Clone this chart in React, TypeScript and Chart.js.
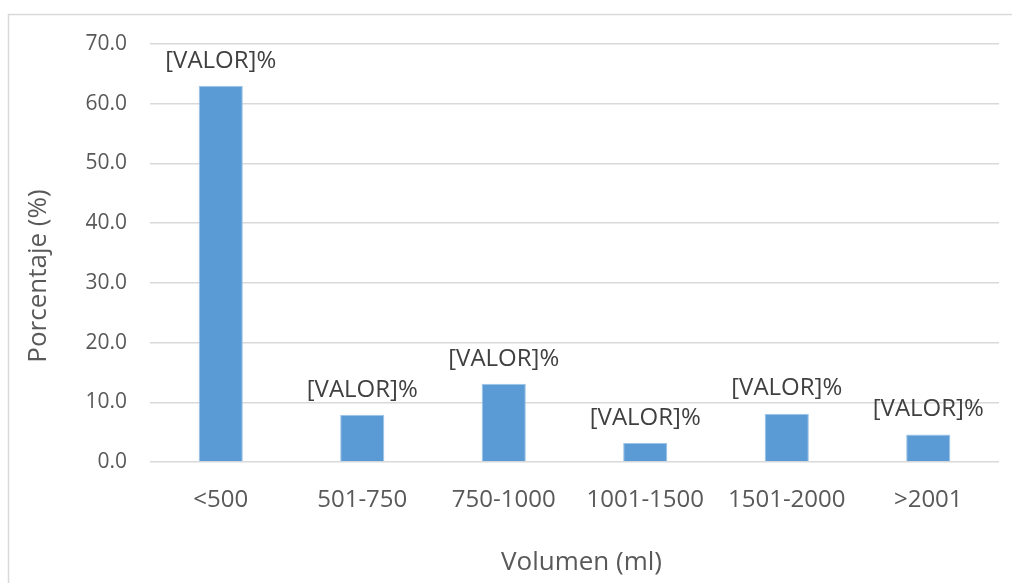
import React, { useEffect, useRef } from "react";
import { Chart, registerables } from "chart.js";

Chart.register(...registerables);

const categories = ["<500", "501-750", "750-1000", "1001-1500", "1501-2000", ">2001"];
const percentages = [63.0, 7.9, 13.1, 3.2, 8.1, 4.6];
const dataLabels = ["[VALOR]%", "[VALOR]%", "[VALOR]%", "[VALOR]%", "[VALOR]%", "[VALOR]%"];
const yTicks = [0, 10, 20, 30, 40, 50, 60, 70];
const xTitle = "Volumen (ml)";
const yTitle = "Porcentaje (%)";

const FONT = "'Open Sans', sans-serif";

export default function App() {
  const ref = useRef<HTMLCanvasElement | null>(null);

  useEffect(() => {
    const canvas = ref.current;
    if (!canvas) return;

    const decor = {
      id: "decor",
      beforeDraw(chart: any) {
        const ctx = chart.ctx;
        ctx.save();
        ctx.fillStyle = "#ffffff";
        ctx.fillRect(0, 0, chart.width, chart.height);
        ctx.strokeStyle = "#d9d9d9";
        ctx.lineWidth = 1.5;
        ctx.beginPath();
        ctx.moveTo(8.5, chart.height);
        ctx.lineTo(8.5, 14.5);
        ctx.lineTo(chart.width, 14.5);
        ctx.stroke();
        ctx.restore();
      },
      afterDatasetsDraw(chart: any) {
        const ctx = chart.ctx;
        const meta = chart.getDatasetMeta(0);
        ctx.save();
        ctx.font = `24px ${FONT}`;
        ctx.fillStyle = "#404040";
        ctx.textAlign = "center";
        ctx.textBaseline = "middle";
        meta.data.forEach((el: any, i: number) => {
          ctx.fillText(dataLabels[i], el.x, el.y - 25);
        });
        ctx.restore();
      },
      afterDraw(chart: any) {
        const ctx = chart.ctx;
        const area = chart.chartArea;
        ctx.save();
        ctx.fillStyle = "#595959";
        ctx.font = `26px ${FONT}`;
        ctx.textAlign = "center";
        ctx.textBaseline = "middle";
        ctx.fillText(xTitle, (area.left + area.right) / 2 + 7, 563);
        ctx.translate(38.5, 276);
        ctx.rotate(-Math.PI / 2);
        ctx.fillText(yTitle, 0, 0);
        ctx.restore();
      },
    };

    const chart = new Chart(canvas, {
      type: "bar",
      data: {
        labels: categories,
        datasets: [
          {
            data: percentages,
            backgroundColor: "#5b9bd5",
            borderColor: "#9dc3e6",
            borderWidth: 1,
            barPercentage: 0.312,
            categoryPercentage: 1,
          },
        ],
      },
      options: {
        responsive: false,
        animation: false,
        events: [],
        layout: { padding: { left: 0, top: 44, right: 13, bottom: 0 } },
        plugins: {
          legend: { display: false },
          tooltip: { enabled: false },
          title: { display: false },
        },
        scales: {
          x: {
            grid: { display: false, drawTicks: false },
            border: { display: false },
            ticks: {
              color: "#595959",
              font: { family: FONT, size: 24 },
              padding: 24,
              maxRotation: 0,
              autoSkip: false,
            },
            afterFit(scale: any) {
              scale.height = 121;
            },
          },
          y: {
            min: 0,
            max: 70,
            afterBuildTicks(scale: any) {
              scale.ticks = yTicks.map((v) => ({ value: v }));
            },
            grid: { color: "#d9d9d9", lineWidth: 1.5, drawTicks: false },
            border: { display: false },
            ticks: {
              color: "#595959",
              font: { family: FONT, size: 21 },
              padding: 23,
              callback: (v: any) => Number(v).toFixed(1),
            },
            afterFit(scale: any) {
              scale.width = 150;
            },
          },
        },
      },
      plugins: [decor],
    });

    return () => chart.destroy();
  }, []);

  return (
    <div style={{ position: "fixed", left: 0, top: 0, width: 1012, height: 583 }}>
      <canvas ref={ref} width={1012} height={583} style={{ display: "block" }} />
    </div>
  );
}
